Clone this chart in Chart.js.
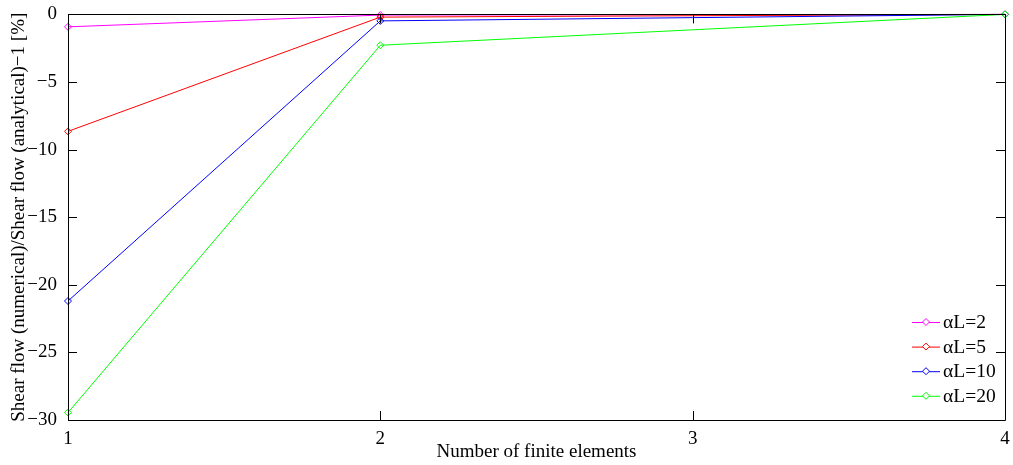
<!DOCTYPE html>
<html>
<head>
<meta charset="utf-8">
<script src="https://cdn.jsdelivr.net/npm/chart.js@4/dist/chart.umd.min.js"></script>
<style>
  html, body { margin: 0; padding: 0; background: #fff; }
  #wrap { width: 1013px; height: 465px; }
</style>
</head>
<body>
<div id="wrap"><canvas id="grafico"></canvas></div>
<script>
// element counts and relative error [%] for each alpha*L
const elementos = [1, 2, 4];
const errorAL2 = [-0.92, -0.05, 0];
const errorAL5 = [-8.65, -0.2, 0];
const errorAL10 = [-21.2, -0.48, 0];
const errorAL20 = [-29.45, -2.28, 0];
const etiquetas = ['\u03b1L=2', '\u03b1L=5', '\u03b1L=10', '\u03b1L=20'];
const colores = ['#ff00ff', '#ff0000', '#0000ff', '#00ff00'];
const ticksX = [1, 2, 3, 4];
const ticksY = [0, -5, -10, -15, -20, -25, -30];

const fuente = 'Liberation Serif, Times New Roman, serif';

const serie = (valores, i) => ({
    label: etiquetas[i],
    data: elementos.map((x, k) => ({ x: x, y: valores[k] })),
    borderColor: colores[i],
    backgroundColor: 'rgba(0,0,0,0)',
    borderWidth: 1,
    pointStyle: 'rectRot',
    pointRadius: 3.5,
    pointBorderWidth: 1,
    pointBorderColor: colores[i],
    pointBackgroundColor: 'rgba(0,0,0,0)',
    tension: 0,
    clip: false,
    order: 3 - i
});

// box around the axes with inward ticks on all four sides
const marco = {
    id: 'marco',
    afterDatasetsDraw(chart) {
        const { ctx, chartArea: a, scales } = chart;
        ctx.save();
        ctx.strokeStyle = '#000';
        ctx.lineWidth = 1;
        ctx.beginPath();
        ctx.rect(Math.round(a.left) + 0.5, Math.round(a.top) + 0.5,
                 Math.round(a.right - a.left), Math.round(a.bottom - a.top));
        ctx.stroke();
        const t = 9;
        ctx.beginPath();
        ticksX.forEach(v => {
            const px = Math.round(scales.x.getPixelForValue(v)) + 0.5;
            ctx.moveTo(px, a.bottom); ctx.lineTo(px, a.bottom - t);
            ctx.moveTo(px, a.top); ctx.lineTo(px, a.top + t);
        });
        ticksY.forEach(v => {
            const py = Math.round(scales.y.getPixelForValue(v)) + 0.5;
            ctx.moveTo(a.left, py); ctx.lineTo(a.left + t, py);
            ctx.moveTo(a.right, py); ctx.lineTo(a.right - t, py);
        });
        ctx.stroke();
        ctx.restore();
    },
    afterDraw(chart) {
        // legend in the lower right corner, no frame
        const { ctx, chartArea: a } = chart;
        ctx.save();
        ctx.font = '19.5px ' + fuente;
        ctx.textBaseline = 'middle';
        chart.data.datasets.forEach((ds, i) => {
            const y = a.bottom - 98 + i * 24.6;
            const x0 = a.right - 93;
            ctx.strokeStyle = ds.borderColor;
            ctx.lineWidth = 1;
            ctx.beginPath();
            ctx.moveTo(x0, y + 0.5); ctx.lineTo(x0 + 28, y + 0.5);
            ctx.stroke();
            const cx = x0 + 14, r = 3.5;
            ctx.beginPath();
            ctx.moveTo(cx, y - r); ctx.lineTo(cx + r, y); ctx.lineTo(cx, y + r); ctx.lineTo(cx - r, y); ctx.closePath();
            ctx.fillStyle = '#fff';
            ctx.fill();
            ctx.stroke();
            ctx.fillStyle = '#000';
            ctx.fillText(ds.label, x0 + 31, y + 1);
        });
        ctx.restore();
    }
};

new Chart(document.getElementById('grafico'), {
    type: 'line',
    data: {
        datasets: [
            serie(errorAL2, 0),
            serie(errorAL5, 1),
            serie(errorAL10, 2),
            serie(errorAL20, 3)
        ]
    },
    options: {
        responsive: true,
        maintainAspectRatio: false,
        animation: false,
        layout: { padding: { top: 12, right: 8, left: 0, bottom: 0 } },
        plugins: {
            legend: { display: false },
            tooltip: { enabled: false }
        },
        scales: {
            x: {
                type: 'linear',
                min: 1,
                max: 4,
                grid: { display: false },
                border: { display: false },
                afterBuildTicks: s => { s.ticks = ticksX.map(v => ({ value: v })); },
                afterFit: s => { s.height = 45; },
                ticks: {
                    color: '#000',
                    padding: 0,
                    maxRotation: 0,
                    font: { family: fuente, size: 19 }
                },
                title: {
                    display: true,
                    text: 'Number of finite elements',
                    color: '#000',
                    padding: { top: 0, bottom: 2 },
                    font: { family: fuente, size: 19 }
                }
            },
            y: {
                type: 'linear',
                min: -30,
                max: 0,
                grid: { display: false },
                border: { display: false },
                afterBuildTicks: s => { s.ticks = ticksY.map(v => ({ value: v })); },
                afterFit: s => { s.width = 68; },
                ticks: {
                    color: '#000',
                    padding: 3,
                    font: { family: fuente, size: 19 },
                    callback: v => String(v).replace('-', '\u2212')
                },
                title: {
                    display: true,
                    text: 'Shear flow (numerical)/Shear flow (analytical)\u22121 [%]',
                    color: '#000',
                    padding: { top: 8, bottom: 0 },
                    font: { family: fuente, size: 19 }
                }
            }
        }
    },
    plugins: [marco]
});
</script>
</body>
</html>
